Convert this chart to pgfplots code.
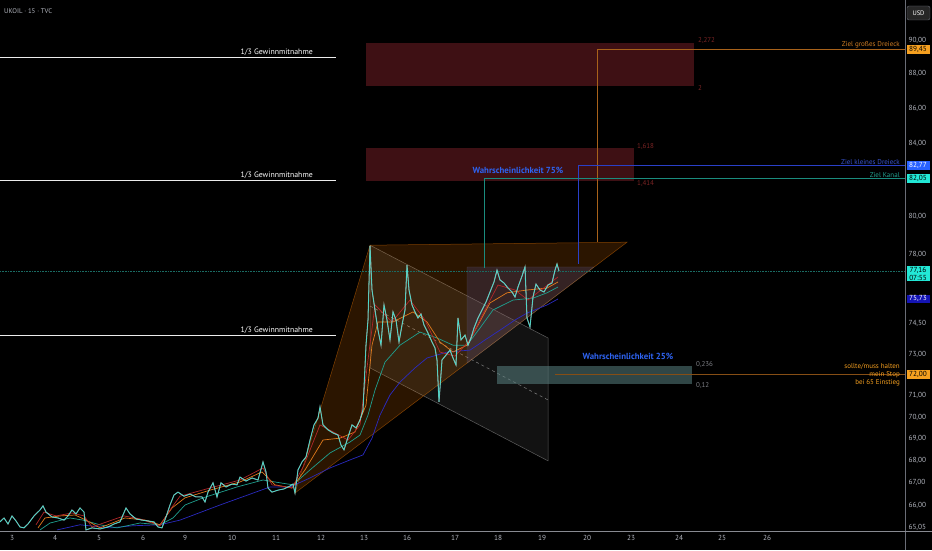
\documentclass[border=0pt]{standalone}
\usepackage{pgfplots}
\pgfplotsset{compat=1.18}
\usepackage{fontspec}
\setmainfont{PT Sans}
\definecolor{axgray}{HTML}{6A6D76}
\definecolor{tickc}{HTML}{B2B5BE}
\definecolor{cand}{HTML}{3FE0D0}
\definecolor{maRed}{HTML}{B0282A}
\definecolor{maOrange}{HTML}{E07A1C}
\definecolor{maTeal}{HTML}{1FA08F}
\definecolor{maBlue}{HTML}{2A2AC0}
\definecolor{tgtOrange}{HTML}{A8621A}
\definecolor{tgtBlue}{HTML}{2A40C8}
\definecolor{tgtTeal}{HTML}{1A8C7E}
\definecolor{darkred}{HTML}{3E1014}
\definecolor{redlab}{HTML}{7A2424}
\definecolor{prob}{HTML}{2E63F0}
\definecolor{lblOrange}{HTML}{D07E24}
\definecolor{lblBlue}{HTML}{3A56D4}
\definecolor{lblTeal}{HTML}{22A392}
\definecolor{boxOrange}{HTML}{F5A020}
\definecolor{boxBlue}{HTML}{2962FF}
\definecolor{boxCyan}{HTML}{22E8D6}
\definecolor{boxDBlue}{HTML}{1414B4}
\definecolor{curLine}{HTML}{1A6A62}
\begin{document}
\begin{tikzpicture}
\useasboundingbox (0,0) rectangle (932pt,550pt);
\fill[black] (0,0) rectangle (932pt,550pt);
\begin{axis}[
  at={(0,19pt)}, anchor=south west,
  width=905pt, height=531pt, scale only axis,
  xmin=0, xmax=905, ymin=64.88, ymax=92.44,
  ymode=log, clip=false,
  axis line style={draw=none},
  major tick length=0pt, minor tick length=0pt,
  tick style={draw=none},
  /pgf/number format/assume math mode=true,
  xtick={12,55,99,143,185,232,276,321,364,407,455,498,542,587,631,679,722,767},
  xticklabels={3,4,5,6,9,10,11,12,13,16,17,18,19,20,23,24,25,26},
  xticklabel style={font=\fontsize{7.3}{8}\selectfont, text=tickc, yshift=-1pt},
  yticklabel pos=right,
  ytick={65.05,66,67,68,69,70,71,73,74.5,78,80,84,86,88,90},
  yticklabels={{65,05},{66,00},{67,00},{68,00},{69,00},{70,00},{71,00},{73,00},{74,50},{78,00},{80,00},{84,00},{86,00},{88,00},{90,00}},
  yticklabel style={font=\fontsize{7.3}{8}\selectfont, text=tickc, xshift=0pt},
  minor ytick={},
]
% --- shapes ---
\addplot[fill=darkred, draw=none] coordinates {(366,87.28) (694,87.28) (694,89.82) (366,89.82)} -- cycle;
\addplot[fill=darkred, draw=none] coordinates {(366,81.92) (634,81.92) (634,83.75) (366,83.75)} -- cycle;
% channel
\addplot[fill=gray, fill opacity=0.14, draw=gray, draw opacity=0.7, line width=0.5pt] coordinates {(370,78.51) (548,73.79) (548,67.98) (370,72.33)} -- cycle;
\addplot[gray, dashed, line width=0.5pt] coordinates {(370,75.38) (548,70.80)};
% big triangle
\addplot[fill=orange, fill opacity=0.17, draw=orange, draw opacity=0.45, line width=0.5pt] coordinates {(295,66.54) (370,78.51) (627,78.66)} -- cycle;
% small triangle
\addplot[fill=blue!30!gray, fill opacity=0.22, draw=gray, draw opacity=0.4, line width=0.4pt] coordinates {(467,77.37) (594,77.37) (467,72.56)} -- cycle;
% 25% box
\addplot[fill=teal!30!gray, fill opacity=0.55, draw=none] coordinates {(497,71.56) (692,71.56) (692,72.42) (497,72.42)} -- cycle;
% profit lines
\addplot[white!85!gray, line width=0.8pt] coordinates {(0,88.99) (336,88.99)};
\addplot[white!85!gray, line width=0.8pt] coordinates {(0,81.98) (336,81.98)};
\addplot[white!85!gray, line width=0.8pt] coordinates {(0,73.93) (336,73.93)};
% target lines
\addplot[tgtOrange, line width=0.6pt] coordinates {(597,78.66) (597,89.45) (905,89.45)};
\addplot[tgtBlue, line width=0.6pt] coordinates {(578,77.52) (578,82.77) (905,82.77)};
\addplot[tgtTeal, line width=0.6pt] coordinates {(484,77.31) (484,82.05) (905,82.05)};
\addplot[tgtOrange!80!black, line width=0.8pt] coordinates {(555,72.00) (905,72.00)};
% current price line
\addplot[curLine, densely dotted, line width=0.6pt] coordinates {(0,77.16) (905,77.16)};
% --- moving averages ---
\addplot[maBlue, line width=0.7pt] coordinates {(57,64.92) (80,65.14) (110,65.01) (133,65.10) (160,65.14) (180,65.35) (220,66.01) (270,66.81) (290,66.81) (310,67.21) (330,67.66) (350,68.02) (363,68.25) (372,69.02) (380,70.09) (390,71.04) (400,71.65) (415,72.33) (427,72.81) (447,73.10) (470,73.20) (485,73.69) (500,74.18) (515,74.68) (527,75.03) (547,75.43) (558,75.73)};
\addplot[maTeal, line width=0.7pt] coordinates {(40,64.92) (50,65.22) (70,65.44) (83,65.35) (100,65.14) (117,65.01) (140,65.22) (160,65.14) (173,65.44) (185,66.01) (203,66.32) (237,66.81) (263,67.12) (280,66.99) (293,66.90) (310,67.57) (330,68.34) (350,68.84) (360,69.16) (368,70.09) (375,71.27) (385,72.61) (400,73.44) (420,74.08) (437,73.79) (453,73.44) (467,73.44) (480,74.28) (493,75.18) (513,75.68) (533,75.78) (547,76.04) (558,76.34)};
\addplot[maOrange, line width=0.7pt] coordinates {(38,65.01) (45,65.44) (60,65.53) (75,65.57) (86,65.35) (100,65.01) (125,65.44) (145,65.35) (160,65.14) (172,65.88) (185,66.32) (210,66.67) (240,67.03) (262,67.48) (275,66.90) (292,66.76) (305,67.57) (323,68.93) (340,69.02) (355,69.30) (366,70.56) (372,73.44) (378,74.58) (393,74.58) (413,75.08) (427,74.58) (440,73.59) (453,73.10) (467,73.44) (478,74.43) (490,75.53) (507,76.04) (527,76.19) (547,76.29) (558,76.60)};
\addplot[maRed, line width=0.7pt] coordinates {(36,65.14) (44,65.70) (56,65.53) (72,65.66) (84,65.53) (92,65.05) (124,65.53) (140,65.40) (160,65.10) (170,65.79) (180,66.40) (210,66.76) (240,67.12) (263,67.66) (272,66.90) (292,66.76) (304,67.79) (320,69.63) (335,69.26) (348,68.93) (360,69.63) (368,72.71) (375,75.43) (392,74.58) (410,75.68) (425,74.68) (440,73.10) (455,72.90) (470,73.69) (485,75.18) (498,76.44) (515,76.19) (528,75.68) (545,76.34) (558,76.85)};
% --- price ---
\addplot[white, line width=1.0pt, opacity=0.55] coordinates {(0,65.27) (4,65.44) (8,65.18) (12,65.53) (16,65.31) (20,65.05) (24,65.01) (28,65.18) (34,65.53) (40,65.79) (43,65.97) (46,65.70) (52,65.48) (58,65.44) (64,65.35) (68,65.53) (72,65.79) (76,65.62) (80,65.88) (84,65.70) (86,64.92) (92,65.01) (100,64.96) (108,65.05) (114,65.18) (120,65.27) (126,65.88) (130,65.62) (136,65.40) (142,65.35) (148,65.31) (154,65.27) (158,65.05) (162,65.01) (166,65.48) (170,66.01) (174,66.45) (178,66.58) (184,66.40) (190,66.49) (196,66.36) (202,66.36) (205,66.14) (208,66.58) (213,66.99) (217,66.36) (221,66.99) (226,66.81) (232,66.94) (237,66.90) (240,67.25) (246,67.07) (252,67.21) (258,67.12) (263,67.93) (266,67.48) (268,66.76) (272,66.58) (278,66.67) (284,66.72) (290,66.85) (293,66.94) (295,66.54) (298,67.57) (302,67.93) (306,68.16) (310,68.93) (314,69.63) (318,69.95) (320,70.47) (323,69.63) (328,69.40) (333,69.26) (338,69.16) (341,68.70) (344,68.48) (348,69.07) (352,69.63) (356,69.49) (360,69.86) (363,70.33) (366,73.44) (368,74.68) (370,78.46) (372,76.19) (375,75.18) (378,74.18) (381,73.44) (384,75.43) (387,74.68) (390,73.69) (393,75.08) (396,74.68) (399,73.59) (402,74.43) (405,75.18) (407,77.47) (409,76.19) (412,75.43) (415,75.08) (418,74.78) (421,74.98) (424,74.43) (428,74.03) (432,73.59) (435,73.30) (437,72.71) (439,70.71) (442,72.71) (446,72.95) (450,73.20) (453,72.81) (456,72.47) (458,74.78) (461,73.69) (465,73.93) (468,73.44) (471,73.79) (474,74.28) (478,74.78) (482,75.18) (486,75.58) (490,76.09) (494,76.60) (497,77.21) (500,76.70) (504,76.55) (508,76.29) (512,76.09) (515,75.83) (518,76.34) (522,76.90) (525,77.37) (527,74.78) (530,74.33) (533,75.83) (536,76.49) (540,76.19) (544,76.09) (548,76.44) (552,76.55) (555,77.21) (557,77.52) (559,77.16)};
\addplot[cand, line width=0.6pt] coordinates {(0,65.27) (4,65.44) (8,65.18) (12,65.53) (16,65.31) (20,65.05) (24,65.01) (28,65.18) (34,65.53) (40,65.79) (43,65.97) (46,65.70) (52,65.48) (58,65.44) (64,65.35) (68,65.53) (72,65.79) (76,65.62) (80,65.88) (84,65.70) (86,64.92) (92,65.01) (100,64.96) (108,65.05) (114,65.18) (120,65.27) (126,65.88) (130,65.62) (136,65.40) (142,65.35) (148,65.31) (154,65.27) (158,65.05) (162,65.01) (166,65.48) (170,66.01) (174,66.45) (178,66.58) (184,66.40) (190,66.49) (196,66.36) (202,66.36) (205,66.14) (208,66.58) (213,66.99) (217,66.36) (221,66.99) (226,66.81) (232,66.94) (237,66.90) (240,67.25) (246,67.07) (252,67.21) (258,67.12) (263,67.93) (266,67.48) (268,66.76) (272,66.58) (278,66.67) (284,66.72) (290,66.85) (293,66.94) (295,66.54) (298,67.57) (302,67.93) (306,68.16) (310,68.93) (314,69.63) (318,69.95) (320,70.47) (323,69.63) (328,69.40) (333,69.26) (338,69.16) (341,68.70) (344,68.48) (348,69.07) (352,69.63) (356,69.49) (360,69.86) (363,70.33) (366,73.44) (368,74.68) (370,78.46) (372,76.19) (375,75.18) (378,74.18) (381,73.44) (384,75.43) (387,74.68) (390,73.69) (393,75.08) (396,74.68) (399,73.59) (402,74.43) (405,75.18) (407,77.47) (409,76.19) (412,75.43) (415,75.08) (418,74.78) (421,74.98) (424,74.43) (428,74.03) (432,73.59) (435,73.30) (437,72.71) (439,70.71) (442,72.71) (446,72.95) (450,73.20) (453,72.81) (456,72.47) (458,74.78) (461,73.69) (465,73.93) (468,73.44) (471,73.79) (474,74.28) (478,74.78) (482,75.18) (486,75.58) (490,76.09) (494,76.60) (497,77.21) (500,76.70) (504,76.55) (508,76.29) (512,76.09) (515,75.83) (518,76.34) (522,76.90) (525,77.37) (527,74.78) (530,74.33) (533,75.83) (536,76.49) (540,76.19) (544,76.09) (548,76.44) (552,76.55) (555,77.21) (557,77.52) (559,77.16)};
% --- texts ---
\node[anchor=south east, inner sep=1pt, text=white, font=\fontsize{7.8}{9}\selectfont] at (axis cs:314,88.99) {1/3 Gewinnmitnahme};
\node[anchor=south east, inner sep=1pt, text=white, font=\fontsize{7.8}{9}\selectfont] at (axis cs:314,81.98) {1/3 Gewinnmitnahme};
\node[anchor=south east, inner sep=1pt, text=white, font=\fontsize{7.8}{9}\selectfont] at (axis cs:314,73.93) {1/3 Gewinnmitnahme};
\node[anchor=west, inner sep=1pt, text=redlab, font=\fontsize{7}{8}\selectfont] at (axis cs:697,89.95) {2,272};
\node[anchor=west, inner sep=1pt, text=redlab, font=\fontsize{7}{8}\selectfont] at (axis cs:697,87.15) {2};
\node[anchor=west, inner sep=1pt, text=redlab, font=\fontsize{7}{8}\selectfont] at (axis cs:636,83.85) {1,618};
\node[anchor=west, inner sep=1pt, text=redlab, font=\fontsize{7}{8}\selectfont] at (axis cs:636,81.80) {1,414};
\node[anchor=west, inner sep=1pt, text=tickc!70!black, font=\fontsize{7}{8}\selectfont] at (axis cs:695,72.50) {0,236};
\node[anchor=west, inner sep=1pt, text=tickc!70!black, font=\fontsize{7}{8}\selectfont] at (axis cs:695,71.50) {0,12};
\node[anchor=south east, inner sep=1pt, text=lblOrange, font=\fontsize{7}{8}\selectfont] at (axis cs:901,89.45) {Ziel großes Dreieck};
\node[anchor=south east, inner sep=1pt, text=lblBlue, font=\fontsize{7}{8}\selectfont] at (axis cs:901,82.77) {Ziel kleines Dreieck};
\node[anchor=south east, inner sep=1pt, text=lblTeal, font=\fontsize{7}{8}\selectfont] at (axis cs:901,82.05) {Ziel Kanal};
\node[anchor=east, inner sep=1pt, align=right, text=boxOrange, font=\fontsize{7}{8}\selectfont] at (axis cs:901,72.00) {sollte/muss halten\\mein Stop\\bei 65 Einstieg};
\node[inner sep=1pt, text=prob, font=\bfseries\fontsize{8.8}{10}\selectfont] at (axis cs:518,82.53) {Wahrscheinlichkeit 75\%};
\node[inner sep=1pt, text=prob, font=\bfseries\fontsize{8.8}{10}\selectfont] at (axis cs:628,72.90) {Wahrscheinlichkeit 25\%};
% price boxes
\node[fill=boxOrange, text=black, inner sep=1.2pt, minimum width=23pt, font=\fontsize{7.3}{8}\selectfont] at (axis cs:918,89.45) {89,45};
\node[fill=boxBlue, text=white, inner sep=1.2pt, minimum width=23pt, font=\fontsize{7.3}{8}\selectfont] at (axis cs:918,82.77) {82,77};
\node[fill=boxCyan, text=black, inner sep=1.2pt, minimum width=23pt, font=\fontsize{7.3}{8}\selectfont] at (axis cs:918,82.05) {82,05};
\node[fill=boxCyan, text=black, inner sep=1.2pt, minimum width=23pt, align=center, anchor=north, font=\fontsize{7.3}{8}\selectfont] at (axis cs:918,77.45) {77,16\\07:55};
\node[fill=boxDBlue, text=white, inner sep=1.2pt, minimum width=23pt, font=\fontsize{7.3}{8}\selectfont] at (axis cs:918,75.73) {75,73};
\node[fill=boxOrange, text=black, inner sep=1.2pt, minimum width=23pt, font=\fontsize{7.3}{8}\selectfont] at (axis cs:918,72.00) {72,00};
\end{axis}
\draw[axgray, line width=0.6pt] (905pt,0) -- (905pt,550pt);
\draw[axgray!80!white, line width=1pt] (0,19pt) -- (932pt,19pt);
\node[anchor=west, text=tickc, font=\fontsize{6.8}{8}\selectfont, inner sep=0pt] at (4pt,539pt) {UKOIL · 15 · TVC};
\draw[axgray, rounded corners=2pt, fill=black!85!white] (907pt,530pt) rectangle (930pt,544pt);
\node[text=white, font=\fontsize{6.5}{8}\selectfont, inner sep=0pt] at (918.5pt,537pt) {USD};
\end{tikzpicture}
\end{document}
